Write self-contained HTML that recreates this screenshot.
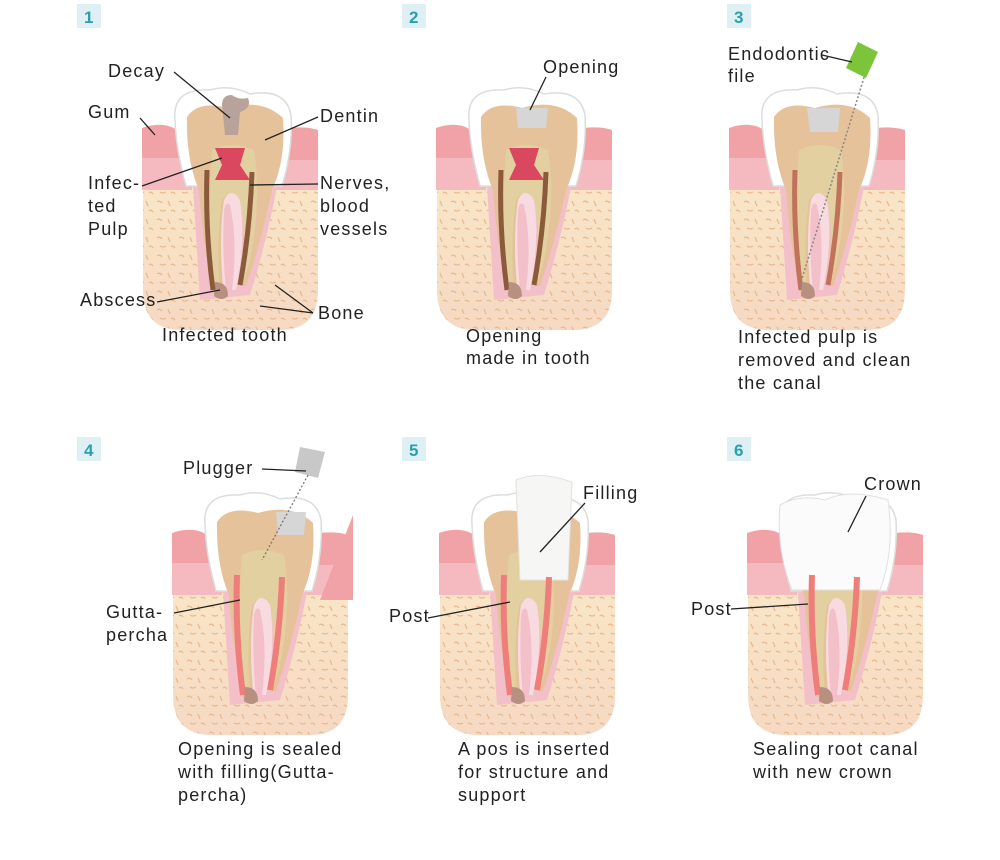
<!DOCTYPE html>
<html><head><meta charset="utf-8"><style>
html,body{margin:0;padding:0;background:#fff}
svg{display:block}
text{font-family:"Liberation Sans",sans-serif;font-size:18px;letter-spacing:1.2px;fill:#222}
.n{font-size:17px;font-weight:bold;fill:#2a9fb0;letter-spacing:0}
line{stroke:#222;stroke-width:1.3}
</style></head><body>
<svg width="1000" height="860" viewBox="0 0 1000 860" xmlns="http://www.w3.org/2000/svg">
<defs>
<linearGradient id="bg" x1="0" y1="0" x2="0" y2="1"><stop offset="0" stop-color="#f9e6c6"/><stop offset="1" stop-color="#f6d9c4"/></linearGradient>
<pattern id="sp" width="22" height="18" patternUnits="userSpaceOnUse">
<path d="M3,4 q3,-2 5,1 M14,3 l2,5 M6,12 q3,2 6,0 M17,13 q2,-2 4,1" stroke="#e9b98e" stroke-width="1.3" fill="none"/>
</pattern>
<g id="tooth">
<path d="M143,182 L318,182 L318,290 Q318,330 280,330 L182,330 Q143,330 143,290 Z" fill="url(#bg)"/>
<path d="M143,182 L318,182 L318,290 Q318,330 280,330 L182,330 Q143,330 143,290 Z" fill="url(#sp)"/>
<path d="M142,128 Q165,120 180,132 L192,190 L142,190 Z" fill="#f1a2a6"/>
<path d="M142,158 L188,158 L192,190 L142,190 Z" fill="#f5b9c0"/>
<path d="M270,132 Q300,124 318,130 L318,190 L266,190 Z" fill="#f1a2a6"/>
<path d="M268,160 L318,160 L318,190 L266,190 Z" fill="#f5b9c0"/>
<path d="M192,170 L200,300 L250,295 Q270,230 280,170 Z" fill="#f3c0ca"/>
<path d="M220,200 Q232,185 240,200 Q246,240 236,290 L232,290 Q238,240 230,205 Q226,200 224,210 Q222,250 226,292 L218,292 Q212,240 220,200 Z" fill="#f8dbe0"/>
<path d="M175,120 Q172,88 210,90 Q230,84 250,94 Q286,88 291,115 Q293,150 282,186 L186,186 Q176,150 175,120 Z" fill="#fff" stroke="#ddd" stroke-width="1.5"/>
<path d="M187,117 Q198,100 228,108 Q262,98 283,118 Q286,160 272,190 Q262,240 246,286 L240,286 Q246,230 242,200 Q234,182 224,200 Q218,240 224,296 L214,296 Q202,240 199,190 Q186,160 187,117 Z" fill="#e6c29b"/>
<path d="M212,150 Q232,140 254,150 Q262,200 250,260 L244,282 Q246,230 240,200 Q232,186 222,200 Q216,240 220,292 L216,292 Q206,230 212,150 Z" fill="#e2d0a0"/>
</g>
</defs>

<g>
<rect x="77" y="4" width="24" height="24" fill="#dff0f4"/><text class="n" x="84" y="23">1</text>
<rect x="402" y="4" width="24" height="24" fill="#dff0f4"/><text class="n" x="409" y="23">2</text>
<rect x="727" y="4" width="24" height="24" fill="#dff0f4"/><text class="n" x="734" y="23">3</text>
<rect x="77" y="437" width="24" height="24" fill="#dff0f4"/><text class="n" x="84" y="456">4</text>
<rect x="402" y="437" width="24" height="24" fill="#dff0f4"/><text class="n" x="409" y="456">5</text>
<rect x="727" y="437" width="24" height="24" fill="#dff0f4"/><text class="n" x="734" y="456">6</text>
</g>

<use href="#tooth"/>
<use href="#tooth" transform="translate(294,0)"/>
<use href="#tooth" transform="translate(587,0)"/>
<use href="#tooth" transform="translate(30,405)"/>
<use href="#tooth" transform="translate(297,405)"/>
<use href="#tooth" transform="translate(605,405)"/>

<path d="M215,148 L245,148 L240,165 L250,180 L215,180 L222,165 Z" fill="#d9485e"/>
<path d="M222,105 Q222,95 232,95 Q238,100 248,98 Q252,108 240,112 L238,135 L225,135 Z" fill="#b8a39a"/>
<path d="M215,282 Q228,282 228,296 Q222,302 214,296 Z" fill="#b89080"/>
<path d="M207,170 Q205,230 213,290 M252,172 Q250,230 240,285" stroke="#8a5a3a" stroke-width="5" fill="none"/>
<path d="M509,148 L539,148 L534,165 L544,180 L509,180 L516,165 Z" fill="#d9485e"/>
<path d="M516,108 L548,108 L546,128 L518,128 Z" fill="#d6d6d6"/>
<path d="M501,170 Q499,230 507,290 M546,172 Q544,230 534,285" stroke="#8a5a3a" stroke-width="5" fill="none"/>
<path d="M509,282 Q522,282 522,296 Q516,302 508,296 Z" fill="#b89080"/>
<path d="M807,108 L840,108 L838,132 L810,132 Z" fill="#d6d6d6"/>
<path d="M795,170 Q793,230 801,290 M840,172 Q838,230 828,285" stroke="#c0725a" stroke-width="5" fill="none"/>
<path d="M802,282 Q815,282 815,296 Q809,302 801,296 Z" fill="#b89080"/>
<line x1="870" y1="58" x2="800" y2="285" style="stroke:#888;stroke-width:1.5;stroke-dasharray:2 2"/>
<path d="M858,42 L878,52 L866,78 L846,68 Z" fill="#7cc43a"/>
<path d="M276,512 L306,512 L304,535 L278,535 Z" fill="#d6d6d6"/>
<path d="M237,575 Q235,635 243,695 M282,577 Q280,635 270,690" stroke="#ef7d7a" stroke-width="6" fill="none"/>
<path d="M245,687 Q258,687 258,701 Q252,707 244,701 Z" fill="#b89080"/>
<path d="M300,447 L325,452 L318,478 L295,472 Z" fill="#c8c8c8"/>
<line x1="308" y1="475" x2="262" y2="560" style="stroke:#777;stroke-dasharray:2 2"/>
<path d="M353,515 L353,600 L320,600 Z" fill="#f1a2a6"/>
<path d="M516,480 Q540,470 572,482 L568,580 L520,580 Z" fill="#f6f6f4" stroke="#e2e2e2"/>
<path d="M504,575 Q502,635 510,695 M549,577 Q547,635 537,690" stroke="#ef7d7a" stroke-width="6" fill="none"/>
<path d="M512,687 Q525,687 525,701 Q519,707 511,701 Z" fill="#b89080"/>
<path d="M780,505 Q800,494 825,500 Q850,488 888,500 Q895,550 880,590 L792,590 Q776,550 780,505 Z" fill="#fbfbfb" stroke="#e0e0e0"/>
<path d="M812,575 Q810,635 818,695 M857,577 Q855,635 845,690" stroke="#ef7d7a" stroke-width="6" fill="none"/>
<path d="M820,687 Q833,687 833,701 Q827,707 819,701 Z" fill="#b89080"/>

<text x="108" y="77">Decay</text><line x1="174" y1="72" x2="230" y2="118"/>
<text x="88" y="118">Gum</text><line x1="140" y1="118" x2="155" y2="135"/>
<text x="320" y="122">Dentin</text><line x1="318" y1="117" x2="265" y2="140"/>
<text x="88" y="189">Infec-</text><text x="88" y="212">ted</text><text x="88" y="235">Pulp</text>
<line x1="142" y1="186" x2="222" y2="158"/>
<text x="320" y="189">Nerves,</text><text x="320" y="212">blood</text><text x="320" y="235">vessels</text>
<line x1="318" y1="184" x2="250" y2="185"/>
<text x="80" y="306">Abscess</text><line x1="157" y1="302" x2="220" y2="290"/>
<text x="318" y="319">Bone</text><line x1="313" y1="313" x2="275" y2="285"/><line x1="313" y1="313" x2="260" y2="306"/>
<text x="162" y="341">Infected tooth</text>
<text x="543" y="73">Opening</text><line x1="546" y1="77" x2="530" y2="110"/>
<text x="466" y="342">Opening</text><text x="466" y="364">made in tooth</text>
<text x="728" y="60">Endodontic</text><text x="728" y="82">file</text>
<line x1="822" y1="55" x2="852" y2="62"/>
<text x="738" y="343">Infected pulp is</text><text x="738" y="366">removed and clean</text><text x="738" y="389">the canal</text>
<text x="183" y="474">Plugger</text><line x1="262" y1="469" x2="306" y2="471"/>
<text x="106" y="618">Gutta-</text><text x="106" y="641">percha</text><line x1="174" y1="613" x2="240" y2="600"/>
<text x="178" y="755">Opening is sealed</text><text x="178" y="778">with filling(Gutta-</text><text x="178" y="801">percha)</text>
<text x="583" y="499">Filling</text><line x1="585" y1="503" x2="540" y2="552"/>
<text x="389" y="622">Post</text><line x1="428" y1="618" x2="510" y2="602"/>
<text x="458" y="755">A pos is inserted</text><text x="458" y="778">for structure and</text><text x="458" y="801">support</text>
<text x="864" y="490">Crown</text><line x1="866" y1="496" x2="848" y2="532"/>
<text x="691" y="615">Post</text><line x1="731" y1="609" x2="808" y2="604"/>
<text x="753" y="755">Sealing root canal</text><text x="753" y="778">with new crown</text>
</svg>
</body></html>
